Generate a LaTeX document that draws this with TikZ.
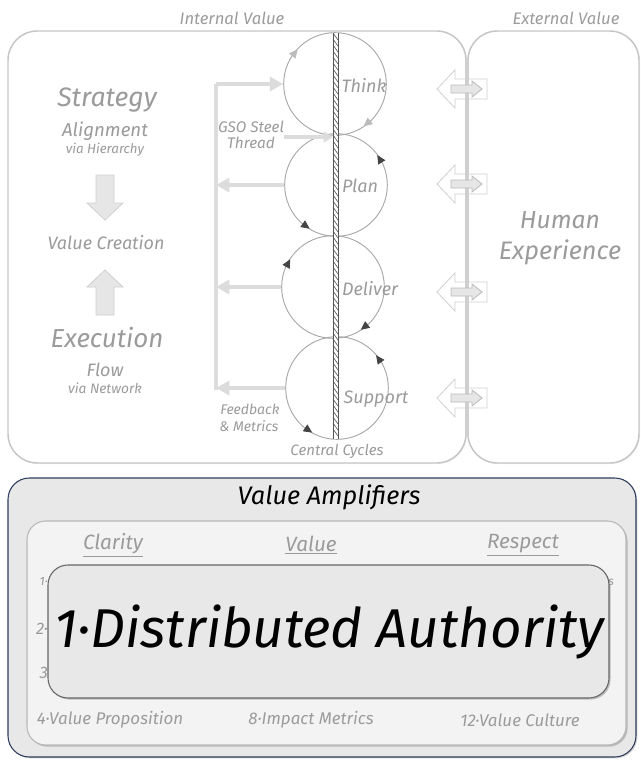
\documentclass[tikz,border=0pt]{standalone}
\usepackage{fontspec}
\setmainfont{Fira Sans}
\usetikzlibrary{arrows.meta,shadows,calc}

\definecolor{txtgray}{HTML}{9B9B9B}
\definecolor{paneline}{HTML}{C6C6C6}
\definecolor{fbgray}{HTML}{DCDCDC}
\definecolor{ropegray}{HTML}{555555}
\definecolor{circgray}{HTML}{A8A8A8}
\definecolor{tipdark}{HTML}{444444}
\definecolor{tiplight}{HTML}{BBBBBB}
\definecolor{navyline}{HTML}{2E3D5C}
\definecolor{ampfill}{HTML}{E9E8E9}
\definecolor{midfill}{HTML}{F3F3F3}
\definecolor{blockfill}{HTML}{E6E6E6}
\definecolor{blockline}{HTML}{D0D0D0}

\newcommand\fsz[1]{\fontsize{#1}{#1}\selectfont}

\begin{document}
\begin{tikzpicture}[x=0.75pt,y=-0.75pt,
  lbl/.style={text=txtgray,font=\itshape\fsz{#1},inner sep=0pt},
  blk/.style={text=black,font=\itshape\fsz{#1},inner sep=0pt},
  panel/.style={draw=paneline,line width=1.1pt,fill=white,rounded corners=22pt,
    drop shadow={opacity=0.12,shadow xshift=0.8pt,shadow yshift=-0.8pt}},
  cyc/.style={circle,draw=circgray,line width=0.7pt,minimum size=77pt,inner sep=0pt},
  tipd/.style={draw=circgray,line width=0.7pt,-{Triangle[length=6.5pt,width=6pt,color=tipdark,fill=tipdark]}},
  tipl/.style={draw=circgray,line width=0.7pt,-{Triangle[length=6.5pt,width=6pt,color=tiplight,fill=tiplight]}},
  fb/.style={draw=fbgray,line width=3.6pt,line join=miter,-{Triangle[length=10pt,width=10.5pt]}},
  fbline/.style={draw=fbgray,line width=3.6pt},
  rope/.style={draw=ropegray,line width=0.45pt},
  blockarrow/.style={fill=blockfill,draw=blockline,line width=0.6pt},
  xout/.style={fill=white,draw=blockline,line width=0.6pt},
  xin/.style={fill=blockfill,draw=blockline!90!black,line width=0.6pt},
]
\useasboundingbox (0,0) rectangle (641,760);

% ---------- top panels ----------
\draw[panel] (8,31) rectangle (466,463);
\draw[panel] (468,31) rectangle (639,463);

\node[lbl=12.5pt] (intval) at (232,18) {Internal Value};
\node[lbl=12.5pt] (extval) at (566,18) {External Value};

% exchange icons (outer part), the shared border, then the inner part
\foreach \y in {89,184,292,398} {
  \draw[xout] (437,\y) -- (455,\y-19) -- (455,\y-10) -- (487,\y-10) -- (487,\y+10)
     -- (455,\y+10) -- (455,\y+19) -- cycle;
}
\draw[draw=paneline!85,line width=3pt] (467,58) -- (467,437);
\foreach \y in {89,184,292,398} {
  \draw[xin] (451,\y-4) -- (472,\y-4) -- (472,\y-8) -- (482,\y) -- (472,\y+8)
     -- (472,\y+4) -- (451,\y+4) -- cycle;
}

% ---------- left column ----------
\node[lbl=20pt] (strategy) at (107,100) {Strategy};
\node[lbl=14pt] (align) at (105,131) {Alignment};
\node[lbl=10pt] (viahier) at (105,150) {via Hierarchy};
\draw[blockarrow] (96,175) -- (114,175) -- (114,203) -- (123,203) -- (105,220)
   -- (87,203) -- (96,203) -- cycle;
\node[lbl=13.5pt] (valcre) at (106,243) {Value Creation};
\draw[blockarrow] (105,270) -- (123,287) -- (114,287) -- (114,315) -- (96,315)
   -- (96,287) -- (87,287) -- cycle;
\node[lbl=19.5pt] (exec) at (107,338) {Execution};
\node[lbl=13.5pt] (flow) at (105,370) {Flow};
\node[lbl=10.3pt] (vianet) at (105,388) {via Network};

% ---------- central cycles ----------
\node[cyc] (think) at (335,84) {};
\node[cyc] (plan) at (336,185) {};
\node[cyc] (deliver) at (333,287) {};
\node[cyc] (support) at (337,388) {};

% twisted steel thread
\fill[white] (333,33) rectangle (338,439);
\foreach \y in {33,39,...,431} {
  \draw[rope] (333,\y) -- (338,\y+7);
}
\draw[rope] (333,33) -- (333,439);
\draw[rope] (338,33) -- (338,439);

% direction marks on the cycles
\draw[tipl] ($(think.center)+(214:51)$) -- ($(think.center)+(223:51)$);
\draw[tipl] ($(think.center)+(47:51)$) -- ($(think.center)+(56:51)$);
\draw[tipd] ($(plan.center)+(333:51)$) -- ($(plan.center)+(324:51)$);
\draw[tipd] ($(plan.center)+(130:51)$) -- ($(plan.center)+(121:51)$);
\draw[tipd] ($(deliver.center)+(204:51)$) -- ($(deliver.center)+(213:51)$);
\draw[tipd] ($(deliver.center)+(48:51)$) -- ($(deliver.center)+(57:51)$);
\draw[tipd] ($(support.center)+(329:51)$) -- ($(support.center)+(320:51)$);
\draw[tipd] ($(support.center)+(128:51)$) -- ($(support.center)+(119:51)$);

\node[lbl=13.5pt] (tthink) at (364,85) {Think};
\node[lbl=13.5pt] (tplan) at (360,186) {Plan};
\node[lbl=13.5pt] (tdeliver) at (370,289) {Deliver};
\node[lbl=13.5pt] (tsupport) at (376,399) {Support};

% feedback bracket
\coordinate (fbtop) at (216,84);
\coordinate (fbbot) at (216,390);
\draw[fbline] (fbbot) -- (fbtop);
\draw[fb] (fbtop) -- (think.west);
\draw[fb] (plan.west) -- (plan.west -| fbtop);
\draw[fb] (deliver.west) -- (deliver.west -| fbtop);
\draw[fb] (support.west) -- (support.west -| fbbot);

% GSO steel thread pointer
\coordinate (gsostart) at (284,137);
\coordinate (threadpt) at (333,137);
\draw[draw=fbgray,line width=3.6pt,-{Triangle[length=7pt,width=8pt]}] (gsostart) -- (threadpt);
\node[lbl=11.5pt] (gso1) at (251,127) {GSO Steel};
\node[lbl=11.5pt] (gso2) at (251,143) {Thread};

\node[lbl=10.5pt,anchor=west] (feed1) at (220,409) {Feedback};
\node[lbl=10.5pt,anchor=west] (feed2) at (219,426) {\& Metrics};
\node[lbl=11.3pt] (central) at (337,451) {Central Cycles};

% ---------- external side ----------
\node[lbl=18.5pt] (human) at (560,220) {Human};
\node[lbl=19pt] (experience) at (560,252) {Experience};

% ---------- value amplifiers ----------
\draw[fill=ampfill,draw=navyline,line width=0.8pt,rounded corners=16pt,
  drop shadow={opacity=0.35,shadow xshift=1pt,shadow yshift=-1pt}] (8,478) rectangle (636,757);
\node[blk=19pt] (amps) at (329,497) {Value Amplifiers};
\draw[fill=midfill,draw=black!28,line width=0.8pt,rounded corners=14pt,
  drop shadow={opacity=0.45,shadow xshift=1.2pt,shadow yshift=-1.2pt}] (27,521) rectangle (626,745);
\node[lbl=15.5pt] (clarity) at (113,545) {\underline{Clarity}};
\node[lbl=15.5pt] (value) at (311,545) {\underline{Value}};
\node[lbl=15.5pt] (respect) at (523,545) {\underline{Respect}};
\node[lbl=9pt,anchor=east] (row1) at (48,581) {1·};
\node[lbl=12.5pt,anchor=east] (row2) at (48,629) {2·};
\node[lbl=12.5pt,anchor=east] (row3) at (48,673) {3};
\node[lbl=9pt,anchor=west] (row1r) at (608,582) {s};
\node[lbl=12.7pt] (vprop) at (110,720) {4·Value Proposition};
\node[lbl=12.7pt] (imetr) at (311,720) {8·Impact Metrics};
\node[lbl=12.7pt] (vcult) at (520,720) {12·Value Culture};
\draw[fill=ampfill,draw=black!60,line width=0.8pt,rounded corners=15pt,
  drop shadow={opacity=0.45,shadow xshift=1.2pt,shadow yshift=-1.2pt}] (48,565) rectangle (609,698);
\node[blk=41pt] (focus) at (329,632) {1·Distributed Authority};
\end{tikzpicture}
\end{document}
